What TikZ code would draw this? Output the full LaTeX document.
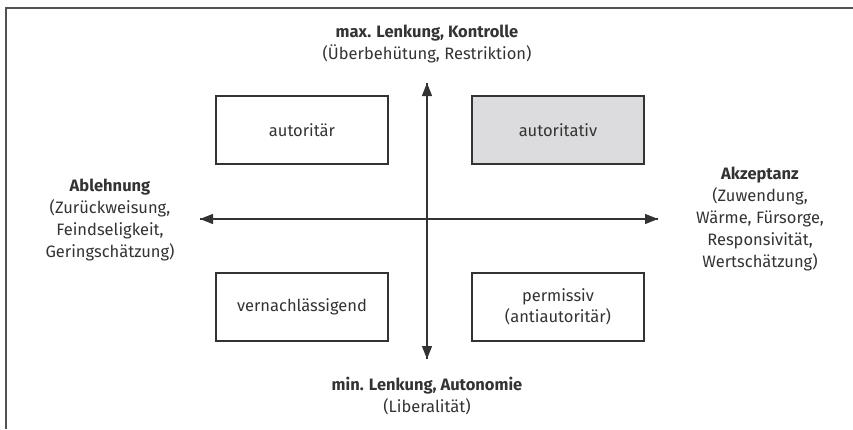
\documentclass[tikz,border=0pt]{standalone}
\usepackage{fontspec}
\setmainfont{Fira Sans}
\usetikzlibrary{arrows.meta}
\definecolor{ink}{HTML}{333333}
\definecolor{boxgray}{HTML}{DCDCDE}
\begin{document}
\begin{tikzpicture}[x=1pt,y=-1pt,
  quad/.style={draw=ink,line width=1.2pt,minimum width=172pt,minimum height=68pt,inner sep=0pt,align=center,font=\fontsize{16.5}{21}\selectfont,text=ink},
  lbl/.style={align=center,font=\fontsize{16.5}{22}\selectfont,text=ink,inner sep=0pt},
  axis/.style={draw=ink,line width=1.2pt,-{Triangle[width=10pt,length=13pt]}}]
\useasboundingbox (0,0) rectangle (853,429);
\draw[draw=ink!85,line width=2pt] (6,429) -- (6,8) -- (853,8);
\coordinate (top) at (427,83);
\coordinate (bot) at (427,359);
\coordinate (lft) at (200,219);
\coordinate (rgt) at (658,219);
\node[quad] (a1) at (302,130) {autoritär};
\node[quad,fill=boxgray] (a2) at (558,130) {autoritativ};
\node[quad] (a3) at (302,307) {vernachlässigend};
\node[quad] (a4) at (558,307) {permissiv\\(antiautoritär)};
\draw[axis] (bot) -- (top);
\draw[axis] (top) -- (bot);
\draw[axis] (rgt) -- (lft);
\draw[axis] (lft) -- (rgt);
\node[lbl] (tl) at (427,44) {\textbf{max. Lenkung, Kontrolle}\\(Überbehütung, Restriktion)};
\node[lbl] (bl) at (427,396) {\textbf{min. Lenkung, Autonomie}\\(Liberalität)};
\node[lbl] (ll) at (110,220) {\textbf{Ablehnung}\\(Zurückweisung,\\Feindseligkeit,\\Geringschätzung)};
\node[lbl] (rl) at (760,219) {\textbf{Akzeptanz}\\(Zuwendung,\\Wärme, Fürsorge,\\Responsivität,\\Wertschätzung)};
\end{tikzpicture}
\end{document}
